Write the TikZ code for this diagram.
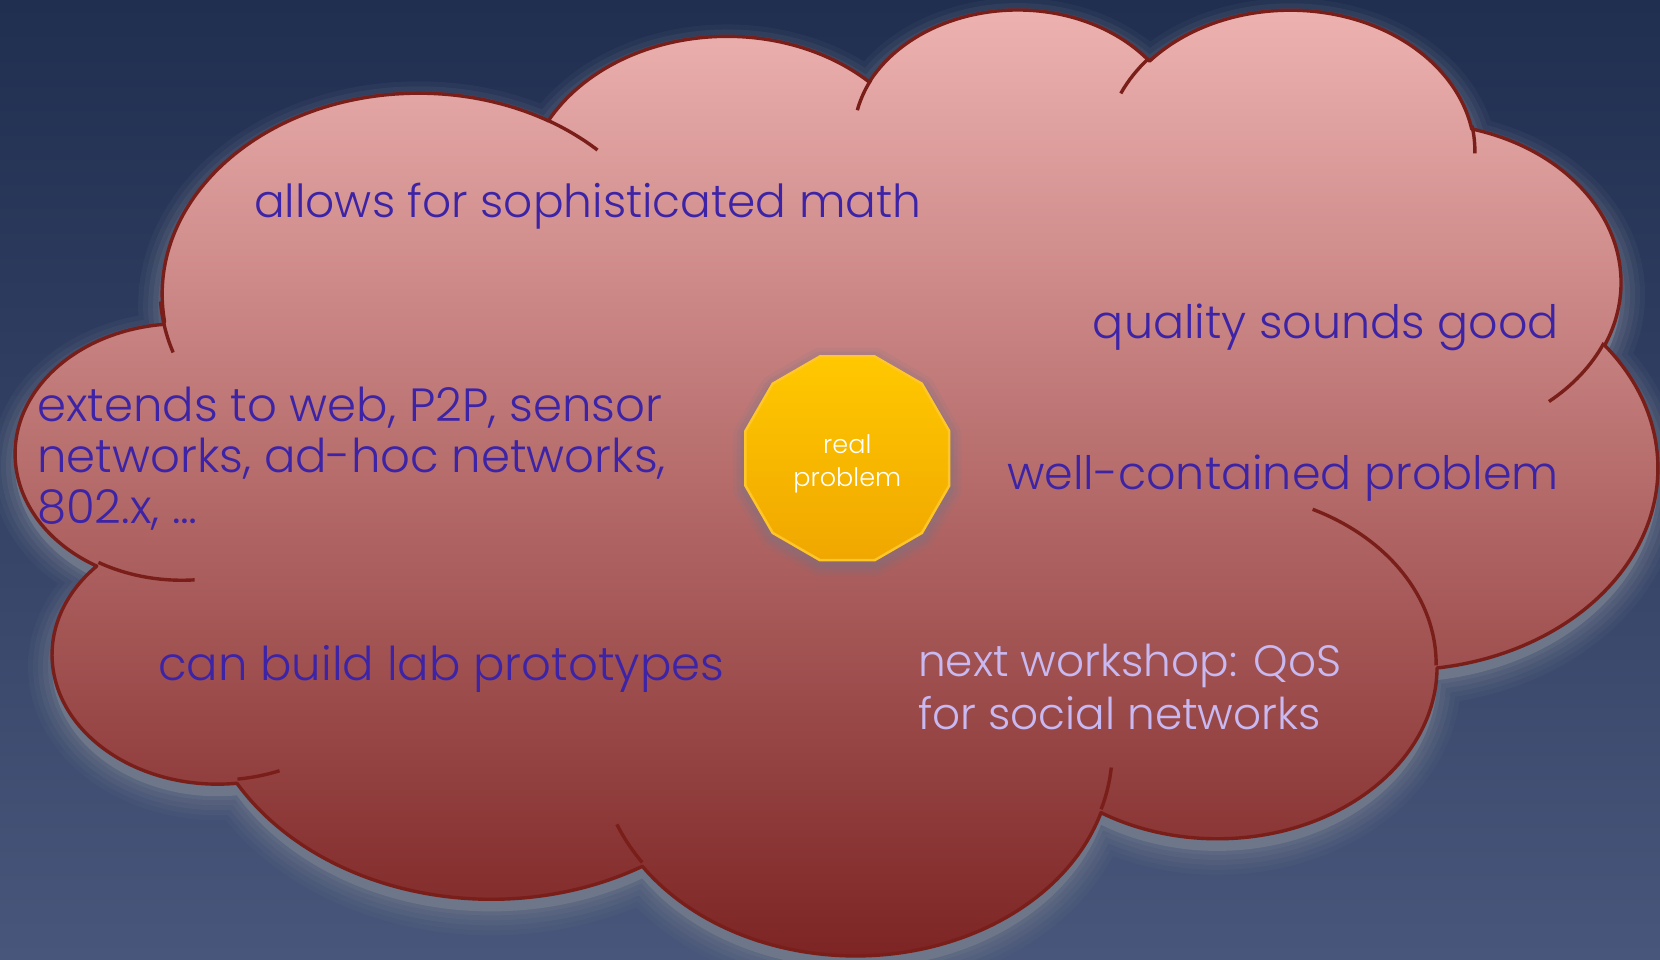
\documentclass[tikz,border=0pt]{standalone}
\usepackage{fontspec}
\IfFontExistsTF{Poppins Light}{\setmainfont{Poppins Light}}{\setmainfont{Poppins}}
\usetikzlibrary{shapes.geometric}

\definecolor{bgtop}{HTML}{202E50}
\definecolor{bgbot}{HTML}{47567A}
\definecolor{cloudtop}{HTML}{EFB5B3}
\definecolor{cloudbot}{HTML}{7A2121}
\definecolor{cloudline}{HTML}{7A1E1A}
\definecolor{glow}{HTML}{6E7689}
\definecolor{ink}{HTML}{3D24A6}
\definecolor{inklight}{HTML}{C9B9F2}
\definecolor{suntop}{HTML}{FFC800}
\definecolor{sunbot}{HTML}{F0A700}
\definecolor{sunline}{HTML}{FFC629}

% Elliptical arc given by start direction and sweep (directions seen from the centre).
% Stores the matching parametric start angle in \<name>s and the sweep in \<name>d.
\newcommand\ooang[5]{%
  \pgfmathsetmacro\ooS{atan2((#2)*sin(#4),(#3)*cos(#4))}%
  \pgfmathsetmacro\ooE{atan2((#2)*sin((#4)+(#5)),(#3)*cos((#4)+(#5)))}%
  \pgfmathsetmacro\ooD{mod(\ooE-\ooS+720,360)}%
  \expandafter\xdef\csname #1s\endcsname{\ooS}%
  \expandafter\xdef\csname #1d\endcsname{\ooD}%
}
% outline bumps
\ooang{mA}{675.3}{919.0}{-190.48748}{123.78053}
\ooang{mB}{533.3}{726.7}{-144.10238}{89.94523}
\ooang{mC}{436.5}{594.5}{-145.80792}{99.72302}
\ooang{mD}{485.7}{659.5}{-130.98607}{117.24173}
\ooang{mE}{533.3}{727.3}{-78.70888}{109.02692}
\ooang{mF}{677.5}{922.0}{-46.27452}{130.26947}
\ooang{mG}{578.5}{786.7}{0.62502}{114.03333}
\ooang{mH}{675.2}{921.5}{22.4516}{115.17255}
\ooang{mI}{772.0}{1054.3}{66.24263}{75.71102}
\ooang{mJ}{436.0}{591.8}{-274.94208}{146.73557}
\ooang{mK}{434.5}{594.5}{-246.8285}{152.51885}
% inner creases
\ooang{sA}{434.5}{594.5}{86.742}{26.4295}
\ooang{sB}{436.0}{591.8}{73.6105}{11.4475}
\ooang{sC}{675.2}{921.5}{137.6241}{14.0811}
\ooang{sD}{675.2}{921.5}{6.4533}{15.9984}
\ooang{sE}{578.5}{786.7}{-70.2924}{70.9174}
\ooang{sF}{533.3}{727.3}{30.318}{27.7515}
\ooang{sG}{485.7}{659.5}{-13.7443}{14.8589}
\ooang{sH}{485.7}{659.5}{-149.1815}{18.1954}
\ooang{sI}{436.5}{594.5}{-163.4943}{17.6864}
\ooang{sJ}{675.3}{919.0}{-66.707}{12.3194}
\ooang{sK}{675.3}{919.0}{155.6442}{19.5145}

\def\cloudoutline{(390,1437)
  arc[start angle=\mAs, delta angle=\mAd, x radius=675.3, y radius=919.0]
  arc[start angle=\mBs, delta angle=\mBd, x radius=533.3, y radius=726.7]
  arc[start angle=\mCs, delta angle=\mCd, x radius=436.5, y radius=594.5]
  arc[start angle=\mDs, delta angle=\mDd, x radius=485.7, y radius=659.5]
  arc[start angle=\mEs, delta angle=\mEd, x radius=533.3, y radius=727.3]
  arc[start angle=\mFs, delta angle=\mFd, x radius=677.5, y radius=922.0]
  arc[start angle=\mGs, delta angle=\mGd, x radius=578.5, y radius=786.7]
  arc[start angle=\mHs, delta angle=\mHd, x radius=675.2, y radius=921.5]
  arc[start angle=\mIs, delta angle=\mId, x radius=772.0, y radius=1054.3]
  arc[start angle=\mJs, delta angle=\mJd, x radius=436.0, y radius=591.8]
  arc[start angle=\mKs, delta angle=\mKd, x radius=434.5, y radius=594.5]
  -- cycle}

\def\cloudcreases{
  (469.3,2617.7) arc[start angle=\sAs, delta angle=\sAd, x radius=434.5, y radius=594.5]
  (692.8,3489.9) arc[start angle=\sBs, delta angle=\sBd, x radius=436.0, y radius=591.8]
  (1647.8,3909.0) arc[start angle=\sCs, delta angle=\sCd, x radius=675.2, y radius=921.5]
  (2882.7,3475.1) arc[start angle=\sDs, delta angle=\sDd, x radius=675.2, y radius=921.5]
  (3412.9,2295.4) arc[start angle=\sEs, delta angle=\sEd, x radius=578.5, y radius=786.7]
  (4179.8,1535.4) arc[start angle=\sFs, delta angle=\sFd, x radius=533.3, y radius=727.3]
  (3832.4,542.6) arc[start angle=\sGs, delta angle=\sGd, x radius=485.7, y radius=659.5]
  (2907.8,395.2) arc[start angle=\sHs, delta angle=\sHd, x radius=485.7, y radius=659.5]
  (2214.1,472.0) arc[start angle=\sIs, delta angle=\sId, x radius=436.5, y radius=594.5]
  (1400.0,519.2) arc[start angle=\sJs, delta angle=\sJd, x radius=675.3, y radius=919.0]
  (412.7,1578.9) arc[start angle=\sKs, delta angle=\sKd, x radius=675.3, y radius=919.0]}

\tikzset{
  cloudframe/.style={x=0.37981pt, y=-0.21887pt},
  label/.style={font=\fontsize{46pt}{54pt}\selectfont, text=ink, inner sep=0pt},
  labelW/.style={label, anchor=base west},
  labelE/.style={label, anchor=base east},
  softlabel/.style={labelW, text=inklight, font=\fontsize{43.8pt}{52pt}\selectfont},
  sunbox/.style={regular polygon, regular polygon sides=12, minimum size=211pt,
    inner sep=0pt, top color=suntop, bottom color=sunbot, draw=sunline,
    line width=2.5pt, text=white, align=center,
    font=\fontsize{25.5pt}{33pt}\selectfont},
}

\begin{document}
\begin{tikzpicture}[x=1pt, y=-1pt]
  \useasboundingbox (0,0) rectangle (1660,959);
  \clip (0,0) rectangle (1660,959);

  % night-blue backdrop
  \shade[top color=bgtop, bottom color=bgbot] (0,0) rectangle (1660,959);

  % soft halo under the cloud
  \begin{scope}[shift={(16.4pt,-19pt)}, cloudframe]
    \foreach \w/\o in {48/0.10, 38/0.13, 28/0.17, 18/0.22, 8/0.28}
      \draw[glow, line width=\w pt, draw opacity=\o, line join=round] \cloudoutline;
    \fill[glow] \cloudoutline;
  \end{scope}

  % the cloud itself
  \begin{scope}[shift={(16.4pt,-6.9pt)}, cloudframe]
    \shade[top color=cloudtop, bottom color=cloudbot] \cloudoutline;
    \draw[cloudline, line width=3.4pt, line join=round] \cloudoutline;
    \draw[cloudline, line width=3.4pt] \cloudcreases;
  \end{scope}

  % halo around the centre badge
  \foreach \w/\o in {26/0.10, 18/0.14, 10/0.20}
    \draw[glow, line width=\w pt, draw opacity=\o, line join=round]
      ([shift={(847.3,462)}]15:105) \foreach \a in {45,75,...,345} { -- ([shift={(847.3,462)}]\a:105) } -- cycle;

  \node[sunbox] (core) at (847.3,458.3) {\rule{0pt}{30pt}real\\problem};

  \node[labelW, font=\fontsize{45.5pt}{54pt}\selectfont] (math) at (254,217) {allows for sophisticated math};
  \node[labelE] (quality) at (1559,338) {quality sounds good};
  \node[labelE] (contained) at (1559,489) {well-contained problem};
  \node[labelW, font=\fontsize{46.6pt}{54pt}\selectfont] (ext1) at (37,421) {extends to web, P2P, sensor};
  \node[labelW, font=\fontsize{46.6pt}{54pt}\selectfont] (ext2) at (37,472) {networks, ad-hoc networks,};
  \node[labelW, font=\fontsize{46.6pt}{54pt}\selectfont] (ext3) at (37,523) {802.x, …};
  \node[labelW, font=\fontsize{46.6pt}{54pt}\selectfont] (lab) at (158,680) {can build lab prototypes};
  \node[softlabel] (next1) at (918,676) {next workshop: QoS};
  \node[softlabel] (next2) at (918,729) {for social networks};
\end{tikzpicture}
\end{document}
